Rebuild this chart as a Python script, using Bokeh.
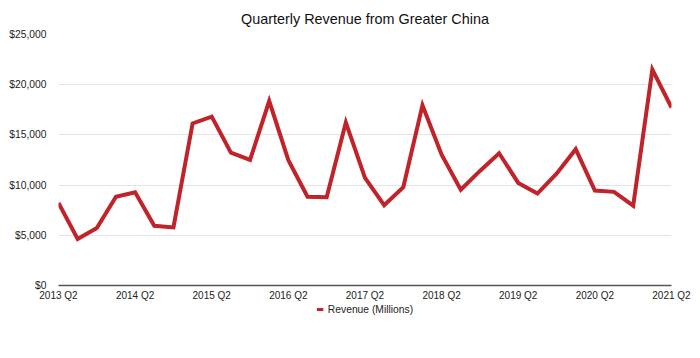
from bokeh.plotting import figure
from bokeh.layouts import column
from bokeh.models import FixedTicker, Legend, LegendItem, ColumnDataSource, NumeralTickFormatter
from bokeh.embed import file_html
from bokeh.resources import INLINE

quarters = ["2013 Q2", "2013 Q3", "2013 Q4",
            "2014 Q1", "2014 Q2", "2014 Q3", "2014 Q4",
            "2015 Q1", "2015 Q2", "2015 Q3", "2015 Q4",
            "2016 Q1", "2016 Q2", "2016 Q3", "2016 Q4",
            "2017 Q1", "2017 Q2", "2017 Q3", "2017 Q4",
            "2018 Q1", "2018 Q2", "2018 Q3", "2018 Q4",
            "2019 Q1", "2019 Q2", "2019 Q3", "2019 Q4",
            "2020 Q1", "2020 Q2", "2020 Q3", "2020 Q4",
            "2021 Q1", "2021 Q2"]
revenue = [8213, 4641, 5731,
           8844, 9286, 5945, 5782,
           16144, 16823, 13230, 12518,
           18374, 12486, 8848, 8785,
           16233, 10726, 8004, 9801,
           17956, 13024, 9551, 11411,
           13169, 10218, 9157, 11134,
           13578, 9455, 9329, 7946,
           21500, 17728]
y_ticks = [0, 5000, 10000, 15000, 20000, 25000]
series_name = "Revenue (Millions)"
line_color = "#c1232b"

idx = list(range(len(quarters)))
src = ColumnDataSource(dict(x=idx, y=revenue, q=quarters))

p = figure(width=700, height=303, output_backend="svg", toolbar_location=None,
           x_range=(0, len(quarters) - 1), y_range=(0, 25000),
           min_border_left=58, min_border_right=29, min_border_top=34, min_border_bottom=17)
p.outline_line_color = None
p.background_fill_color = "white"

p.title.text = "Quarterly Revenue from Greater China"
p.title.align = "center"
p.title.text_font = "Liberation Sans"
p.title.text_font_size = "14.4px"
p.title.text_font_style = "normal"
p.title.text_color = "#111111"
p.title.offset = 0
p.title.standoff = 15

r = p.line("x", "y", source=src, line_color=line_color, line_width=4, line_join="miter")

label_ticks = idx[::4]
p.xaxis.ticker = FixedTicker(ticks=label_ticks)
p.xaxis.major_label_overrides = {i: quarters[i] for i in label_ticks}
p.xaxis.major_tick_line_color = None
p.xaxis.minor_tick_line_color = None
p.xaxis.major_tick_out = 0
p.xaxis.major_tick_in = 0
p.xaxis.minor_tick_out = 0
p.xaxis.axis_line_color = "#555555"
p.xaxis.axis_line_width = 1.5
p.xaxis.major_label_standoff = 4
p.xaxis.major_label_text_font = "Liberation Sans"
p.xaxis.major_label_text_font_size = "10px"
p.xaxis.major_label_text_color = "#222222"

p.yaxis.ticker = FixedTicker(ticks=y_ticks)
p.yaxis.formatter = NumeralTickFormatter(format="$0,0")
p.yaxis.axis_line_color = None
p.yaxis.major_tick_line_color = None
p.yaxis.minor_tick_line_color = None
p.yaxis.major_tick_out = 0
p.yaxis.major_tick_in = 0
p.yaxis.minor_tick_out = 0
p.yaxis.major_label_standoff = 12
p.yaxis.major_label_text_font = "Liberation Sans"
p.yaxis.major_label_text_font_size = "10.3px"
p.yaxis.major_label_text_color = "#222222"

p.xgrid.grid_line_color = None
p.ygrid.grid_line_color = "#e4e4e4"
p.ygrid.grid_line_width = 1

# legend strip below the chart (its line lies outside the strip's visible range)
lg = figure(width=700, height=24, output_backend="svg", toolbar_location=None,
            x_range=(0, 1), y_range=(-2, -1), min_border=0)
lg.axis.visible = False
lg.grid.visible = False
lg.outline_line_color = None
lr = lg.line("x", "y", source=src, line_color=line_color, line_width=3)
legend = Legend(items=[LegendItem(label=series_name, renderers=[lr])],
                orientation="horizontal", location="top_center",
                glyph_width=7, glyph_height=12, label_standoff=5,
                label_text_font="Liberation Sans", label_text_font_size="10.3px",
                label_text_color="#222222", border_line_color=None,
                background_fill_alpha=0, padding=0, margin=0, spacing=0,
                label_height=12)
lg.add_layout(legend, "center")

open("out.html", "w").write(file_html(column(p, lg, spacing=0), INLINE))
